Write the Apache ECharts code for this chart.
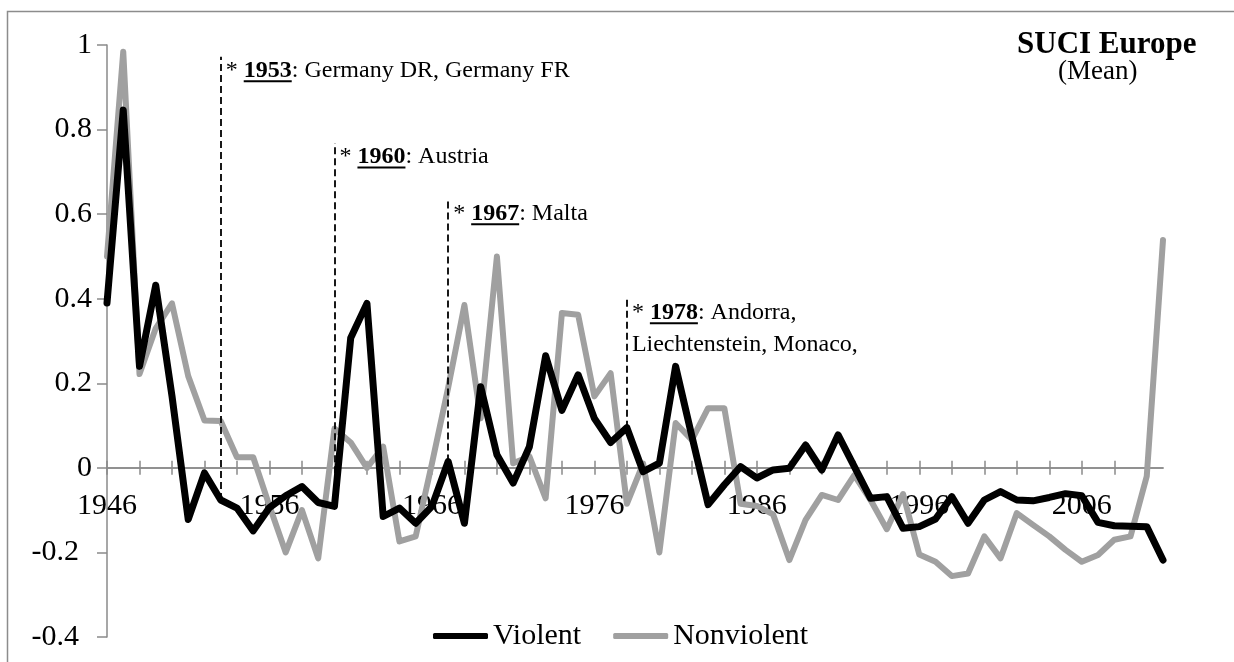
<!DOCTYPE html>
<html>
<head>
<meta charset="utf-8">
<title>SUCI Europe</title>
<script src="https://cdn.jsdelivr.net/npm/echarts@6/dist/echarts.min.js"></script>
<style>
  html, body { margin: 0; padding: 0; background: #fff; }
  #chart { width: 1234px; height: 662px; }
</style>
</head>
<body>
<div id="chart"></div>
<script>
const years = [
  '1946','1947','1948','1949','1950','1951','1952','1953','1954','1955',
  '1956','1957','1958','1959','1960','1961','1962','1963','1964','1965',
  '1966','1967','1968','1969','1970','1971','1972','1973','1974','1975',
  '1976','1977','1978','1979','1980','1981','1982','1983','1984','1985',
  '1986','1987','1988','1989','1990','1991','1992','1993','1994','1995',
  '1996','1997','1998','1999','2000','2001','2002','2003','2004','2005',
  '2006','2007','2008','2009','2010','2011'
]
const violent = [
  0.39, 0.846, 0.24, 0.432, 0.17, -0.122, -0.012, -0.076, -0.095, -0.149,
  -0.094, -0.066, -0.044, -0.082, -0.091, 0.307, 0.389, -0.115, -0.095, -0.131,
  -0.091, 0.015, -0.131, 0.192, 0.031, -0.036, 0.05, 0.265, 0.136, 0.22,
  0.117, 0.06, 0.095, -0.009, 0.011, 0.24, 0.075, -0.087, -0.04, 0.003,
  -0.024, -0.005, -0.001, 0.054, -0.005, 0.078, 0.003, -0.072, -0.068, -0.143,
  -0.139, -0.121, -0.068, -0.131, -0.076, -0.056, -0.076, -0.078, -0.07, -0.061,
  -0.066, -0.129, -0.137, -0.138, -0.139, -0.218
]
const nonviolent = [
  0.5, 0.984, 0.222, 0.33, 0.389, 0.217, 0.112, 0.111, 0.025, 0.025,
  -0.09, -0.2, -0.1, -0.214, 0.093, 0.06, 0.0, 0.05, -0.174, -0.162,
  0.01, 0.19, 0.385, 0.117, 0.5, 0.011, 0.027, -0.072, 0.366, 0.362,
  0.169, 0.224, -0.085, 0.01, -0.2, 0.106, 0.066, 0.141, 0.141, -0.085,
  -0.09, -0.11, -0.218, -0.123, -0.064, -0.076, -0.017, -0.076, -0.145, -0.062,
  -0.205, -0.222, -0.256, -0.25, -0.162, -0.214, -0.107, -0.135, -0.162, -0.194,
  -0.222, -0.206, -0.17, -0.162, -0.02, 0.539
]

// membership notes: dashed line from the Violent value up to noteTops
const noteYears = ['1953', '1960', '1967', '1978']
const noteTops = [0.972, 0.768, 0.634, 0.4]
const noteTexts = [': Germany DR, Germany FR', ': Austria', ': Malta', ': Andorra,']
const noteExtra = ['', '', '', 'Liechtenstein, Monaco,']

const FONT = '"Liberation Serif", "Times New Roman", serif'
const axisGrey = '#8a8a8a'

const chartDom = document.getElementById('chart')
const myChart = echarts.init(chartDom)

const everyTwo = (idx) => idx % 2 === 0
const gridBox = { left: 107, right: 71, top: 45, bottom: 25, containLabel: false }

const noteLines = noteYears.map((y, i) => {
  const idx = years.indexOf(y)
  return [{ coord: [idx, violent[idx]] }, { coord: [idx, noteTops[i]] }]
})

const option = {
  animation: false,
  backgroundColor: '#fff',
  title: [
    { text: 'SUCI Europe', left: 1012, top: 24,
      textStyle: { fontFamily: FONT, fontSize: 31, fontWeight: 'bold', color: '#000' } },
    { text: '(Mean)', left: 1053, top: 53,
      textStyle: { fontFamily: FONT, fontSize: 27, fontWeight: 'normal', color: '#000' } }
  ],
  legend: {
    data: ['Violent', 'Nonviolent'],
    left: 428,
    top: 616,
    icon: 'roundRect',
    itemWidth: 55,
    itemHeight: 6,
    itemGap: 32,
    textStyle: { fontFamily: FONT, fontSize: 30, color: '#000' }
  },
  // grid 1 carries the upper half of the crossing x ticks on the zero line
  grid: [gridBox, Object.assign({}, gridBox)],
  xAxis: [
    {
      type: 'category',
      gridIndex: 0,
      data: years,
      boundaryGap: false,
      show: false,
      axisLine: { onZero: false }
    },
    {
      type: 'category',
      gridIndex: 1,
      data: years,
      boundaryGap: false,
      axisLine: { onZero: true, lineStyle: { color: axisGrey, width: 1.5 } },
      axisTick: { inside: true, interval: everyTwo, length: 7, lineStyle: { color: axisGrey, width: 1.5 } },
      axisLabel: { show: false },
      splitLine: { show: false }
    }
  ],
  yAxis: [
    {
      type: 'value',
      gridIndex: 0,
      min: -0.4,
      max: 1,
      interval: 0.2,
      axisLine: { show: true, lineStyle: { color: axisGrey, width: 1.5 } },
      axisTick: { show: true, length: 10, lineStyle: { color: axisGrey, width: 1.5 } },
      axisLabel: {
        margin: 15,
        fontFamily: FONT,
        fontSize: 30,
        color: '#000',
        formatter: (v) => {
          const s = String(Math.round(v * 10) / 10)
          return v < 0 ? '{neg|' + s + '}' : s
        },
        rich: { neg: { fontFamily: FONT, fontSize: 30, color: '#000', padding: [0, 13, 0, 0] } }
      },
      splitLine: { show: false }
    },
    {
      type: 'value',
      gridIndex: 1,
      min: -0.4,
      max: 1,
      interval: 0.2,
      show: false
    }
  ],
  series: [
    {
      name: 'Violent',
      type: 'line',
      xAxisIndex: 0,
      yAxisIndex: 0,
      data: violent,
      symbol: 'none',
      z: 4,
      lineStyle: { color: '#000', width: 7, join: 'round', cap: 'round' },
      itemStyle: { color: '#000' },
      markLine: {
        silent: true,
        symbol: ['none', 'none'],
        label: { show: false },
        lineStyle: { color: '#000', type: [7, 4], width: 1.8 },
        data: noteLines
      }
    },
    {
      name: 'Nonviolent',
      type: 'line',
      xAxisIndex: 0,
      yAxisIndex: 0,
      data: nonviolent,
      symbol: 'none',
      z: 3,
      lineStyle: { color: '#a0a0a0', width: 6, join: 'round', cap: 'round' },
      itemStyle: { color: '#a0a0a0' }
    }
  ]
}
myChart.setOption(option)

// year labels and lower tick halves: a grid whose bottom edge sits on the zero line
const zeroY = myChart.convertToPixel({ yAxisIndex: 0 }, 0)
option.grid.push({ left: 107, right: 71, top: 45, height: zeroY - 45, containLabel: false })
option.xAxis.push({
  type: 'category',
  gridIndex: 2,
  data: years,
  boundaryGap: false,
  axisLine: { onZero: false, lineStyle: { color: axisGrey, width: 1.5 } },
  axisTick: { interval: everyTwo, length: 7, lineStyle: { color: axisGrey, width: 1.5 } },
  axisLabel: { interval: 9, margin: 23, fontFamily: FONT, fontSize: 30, color: '#000' },
  splitLine: { show: false }
})
option.yAxis.push({ type: 'value', gridIndex: 2, min: 0, max: 1, show: false })
myChart.setOption(option)

// note labels, placed from the axis scales
const measure = document.createElement('canvas').getContext('2d')
const textWidth = (txt, font) => {
  measure.font = font
  return measure.measureText(txt).width
}
const graphics = [
  {
    type: 'rect',
    silent: true,
    z: -1,
    shape: { x: 7.5, y: 11.5, width: 1300, height: 700 },
    style: { fill: 'none', stroke: '#8c8c8c', lineWidth: 1.5 }
  }
]
noteYears.forEach((y, i) => {
  const p = myChart.convertToPixel({ gridIndex: 0 }, [years.indexOf(y), noteTops[i]])
  const x0 = p[0] + 5
  const cy = p[1] + 14
  graphics.push({
    type: 'text',
    silent: true,
    style: {
      x: x0, y: cy,
      verticalAlign: 'middle',
      text: '{n|* }{b|' + y + '}{n|' + noteTexts[i] + '}',
      rich: {
        n: { fontFamily: FONT, fontSize: 24, fill: '#000' },
        b: { fontFamily: FONT, fontSize: 24, fontWeight: 'bold', fill: '#000' }
      }
    }
  })
  const w1 = textWidth('* ', '24px ' + FONT)
  const w2 = textWidth(y, 'bold 24px ' + FONT)
  graphics.push({
    type: 'line',
    silent: true,
    shape: { x1: x0 + w1, y1: cy + 10.5, x2: x0 + w1 + w2, y2: cy + 10.5 },
    style: { stroke: '#000', lineWidth: 2 }
  })
  if (noteExtra[i]) {
    graphics.push({
      type: 'text',
      silent: true,
      style: {
        x: x0, y: cy + 32,
        verticalAlign: 'middle',
        text: noteExtra[i],
        font: '24px ' + FONT,
        fill: '#000'
      }
    })
  }
})
myChart.setOption({ graphic: graphics })
</script>
</body>
</html>
